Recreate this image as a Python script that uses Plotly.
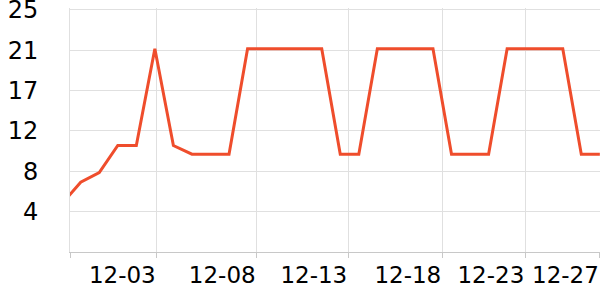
import plotly.graph_objects as go

dates = ["2023-11-28", "2023-11-29", "2023-11-30", "2023-12-01", "2023-12-02", "2023-12-03",
         "2023-12-04", "2023-12-05", "2023-12-06", "2023-12-07", "2023-12-08", "2023-12-09",
         "2023-12-10", "2023-12-11", "2023-12-12", "2023-12-13", "2023-12-14", "2023-12-15",
         "2023-12-16", "2023-12-17", "2023-12-18", "2023-12-19", "2023-12-20", "2023-12-21",
         "2023-12-22", "2023-12-23", "2023-12-24", "2023-12-25", "2023-12-26", "2023-12-27"]
values = [5.0, 7.2, 8.2, 11.0, 11.0, 21.0,
          11.0, 10.1, 10.1, 10.1, 21.0, 21.0,
          21.0, 21.0, 21.0, 10.1, 10.1, 21.0,
          21.0, 21.0, 21.0, 10.1, 10.1, 10.1,
          21.0, 21.0, 21.0, 21.0, 10.1, 10.1]

x_tick_vals = ["2023-11-28 10:09", "2023-12-03 02:24", "2023-12-08 11:46", "2023-12-13 10:19",
               "2023-12-18 12:00", "2023-12-22 23:31", "2023-12-27 00:00"]
x_tick_text = ["", "12-03", "12-08", "12-13", "12-18", "12-23", "12-27"]
x_range = ["2023-11-28 10:09", "2023-12-27 00:12"]

y_max = 25
y_tick_vals = [round(y_max * k / 6, 4) for k in range(1, 7)]
y_tick_text = ["4", "8", "12", "17", "21", "25"]

fig = go.Figure(go.Scatter(
    x=dates, y=values, mode="lines",
    line=dict(color="#ef4d2c", width=3),
    hoverinfo="skip",
))

fig.update_layout(
    width=600, height=300,
    margin=dict(l=70, r=0, t=8.4, b=47.7, autoexpand=False),
    paper_bgcolor="white", plot_bgcolor="white",
    showlegend=False,
    font=dict(family="DejaVu Sans", size=23, color="#000000"),
)
fig.update_xaxes(
    type="date", range=x_range, automargin=False,
    tickmode="array", tickvals=x_tick_vals, ticktext=x_tick_text,
    ticklabelposition="outside left", tickangle=0,
    ticklabeloverflow="allow", ticklabelstandoff=2,
    showgrid=True, gridcolor="#e0e0e0", gridwidth=1,
    showline=True, linecolor="#c8c8c8", linewidth=1,
    ticks="outside", ticklen=5, tickcolor="#c8c8c8",
    tickfont=dict(size=23, color="#000000"),
    zeroline=False,
)
fig.update_yaxes(
    range=[0, y_max + 0.2], automargin=False,
    tickmode="array", tickvals=y_tick_vals, ticktext=y_tick_text,
    ticklabeloverflow="allow",
    showgrid=True, gridcolor="#e0e0e0", gridwidth=1,
    showline=True, linecolor="#e0e0e0", linewidth=1,
    ticks="", ticklabelstandoff=26,
    tickfont=dict(size=24, color="#000000"),
    zeroline=False,
)

fig.write_html("out.html")
